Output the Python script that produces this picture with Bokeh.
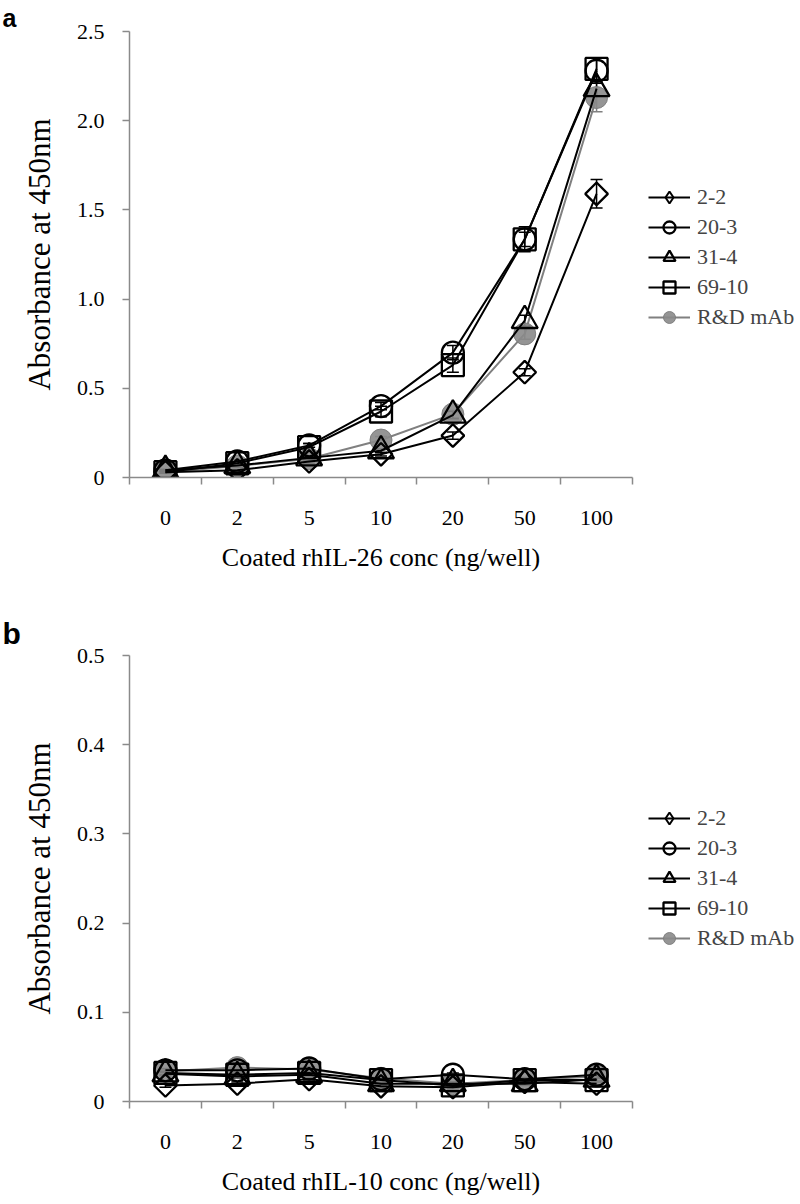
import math
from bokeh.plotting import figure
from bokeh.models import (ColumnDataSource, Legend, LegendItem, FixedTicker,
                          Whisker, TeeHead, Range1d)
from bokeh.layouts import column
from bokeh.embed import file_html
from bokeh.resources import INLINE

# ---------------- data ----------------
concs = ["0", "2", "5", "10", "20", "50", "100"]
series_names = ["2-2", "20-3", "31-4", "69-10", "R&D mAb"]

# panel a : coated rhIL-26
a_22 = [0.03, 0.04, 0.09, 0.13, 0.235, 0.59, 1.59]
a_203 = [0.04, 0.09, 0.18, 0.40, 0.70, 1.335, 2.28]
a_314 = [0.04, 0.067, 0.11, 0.15, 0.35, 0.88, 2.18]
a_6910 = [0.03, 0.08, 0.17, 0.37, 0.63, 1.335, 2.29]
a_rd = [0.03, 0.065, 0.105, 0.21, 0.355, 0.805, 2.13]
a_err_22 = [0.005, 0.005, 0.01, 0.01, 0.02, 0.02, 0.08]
a_err_203 = [0.005, 0.01, 0.01, 0.02, 0.04, 0.07, 0.07]
a_err_314 = [0.005, 0.01, 0.01, 0.01, 0.02, 0.03, 0.04]
a_err_6910 = [0.005, 0.01, 0.02, 0.03, 0.04, 0.04, 0.06]
a_err_rd = [0.005, 0.005, 0.01, 0.02, 0.02, 0.03, 0.08]
a_yticks = [0, 0.5, 1.0, 1.5, 2.0, 2.5]
a_ylabels = ["0", "0.5", "1.0", "1.5", "2.0", "2.5"]

# panel b : coated rhIL-10
b_22 = [0.018, 0.020, 0.025, 0.017, 0.016, 0.022, 0.020]
b_203 = [0.035, 0.035, 0.037, 0.025, 0.030, 0.025, 0.030]
b_314 = [0.031, 0.028, 0.030, 0.020, 0.020, 0.020, 0.025]
b_6910 = [0.032, 0.030, 0.032, 0.024, 0.018, 0.024, 0.024]
b_rd = [0.034, 0.038, 0.036, 0.026, 0.020, 0.024, 0.028]
b_err = [0.002, 0.002, 0.002, 0.002, 0.002, 0.002, 0.002]
b_yticks = [0, 0.1, 0.2, 0.3, 0.4, 0.5]
b_ylabels = ["0", "0.1", "0.2", "0.3", "0.4", "0.5"]

FONT = "Liberation Serif"
AXIS_GRAY = "#8a8a8a"
RD_FILL = "#8a8a8a"
RD_LINE = "#7a7a7a"


def make_panel(vals, errs, ymax, yticks, ylabels, xtitle, letter, letter_size,
               letter_standoff, top_border, bottom_border, legend_y):
    n = len(concs)
    xs = [i + 0.5 for i in range(n)]
    p = figure(frame_width=503, frame_height=446, output_backend="svg",
               toolbar_location=None, x_range=Range1d(0, n),
               y_range=Range1d(0, ymax), min_border_left=129,
               min_border_right=160, min_border_top=top_border,
               min_border_bottom=bottom_border)
    p.outline_line_color = None
    p.grid.visible = False
    p.background_fill_color = "white"

    # panel letter as the figure title
    p.title.text = letter
    p.title.align = "left"
    p.title.offset = -127
    p.title.standoff = letter_standoff
    p.title.text_font = "Liberation Sans"
    p.title.text_font_style = "bold"
    p.title.text_font_size = letter_size
    p.title.text_color = "black"

    # x axis: labels at category centres, ticks at boundaries
    xa = p.xaxis[0]
    xa.ticker = FixedTicker(ticks=xs, minor_ticks=list(range(n + 1)))
    xa.major_label_overrides = {x: c for x, c in zip(xs, concs)}
    xa.major_tick_out = 0
    xa.major_tick_in = 0
    xa.minor_tick_out = 7
    xa.minor_tick_in = 0
    xa.minor_tick_line_color = AXIS_GRAY
    xa.minor_tick_line_width = 1.5
    xa.axis_line_color = AXIS_GRAY
    xa.axis_line_width = 1.5
    xa.major_label_standoff = 26
    xa.major_label_text_font = FONT
    xa.major_label_text_font_size = "22px"
    xa.major_label_text_color = "black"
    xa.axis_label = xtitle
    xa.axis_label_text_font = FONT
    xa.axis_label_text_font_size = "26px"
    xa.axis_label_text_font_style = "normal"
    xa.axis_label_text_color = "black"
    xa.axis_label_standoff = 15

    ya = p.yaxis[0]
    ya.ticker = FixedTicker(ticks=yticks, minor_ticks=[])
    ya.major_label_overrides = {t: l for t, l in zip(yticks, ylabels)}
    ya.major_tick_out = 7
    ya.major_tick_in = 0
    ya.major_tick_line_color = AXIS_GRAY
    ya.major_tick_line_width = 1.5
    ya.minor_tick_line_color = None
    ya.axis_line_color = AXIS_GRAY
    ya.axis_line_width = 1.5
    ya.major_label_standoff = 18
    ya.major_label_text_font = FONT
    ya.major_label_text_font_size = "22px"
    ya.major_label_text_color = "black"
    ya.axis_label = "Absorbance at 450nm"
    ya.axis_label_text_font = FONT
    ya.axis_label_text_font_size = "31px"
    ya.axis_label_text_font_style = "normal"
    ya.axis_label_text_color = "black"
    ya.axis_label_standoff = 17

    styles = {
        "2-2": dict(marker="square", angle=math.pi / 4, size=16),
        "20-3": dict(marker="circle", angle=0, size=22),
        "31-4": dict(marker="triangle", angle=0, size=26),
        "69-10": dict(marker="square", angle=0, size=22),
        "R&D mAb": dict(marker="circle", angle=0, size=22),
    }

    items = {}
    draw_order = ["R&D mAb", "2-2", "20-3", "31-4", "69-10"]
    sources = {}
    for name in draw_order:
        y = vals[name]
        e = errs[name]
        src = ColumnDataSource(dict(x=xs, y=y,
                                    upper=[a + b for a, b in zip(y, e)],
                                    lower=[a - b for a, b in zip(y, e)]))
        sources[name] = src
        st = styles[name]
        if name == "R&D mAb":
            lr = p.line("x", "y", source=src, line_color="#808080", line_width=2)
            sr = p.scatter("x", "y", source=src, marker=st["marker"], size=st["size"],
                           fill_color=RD_FILL, fill_alpha=0.9,
                           line_color=RD_LINE, line_alpha=0.9, line_width=1)
        else:
            lr = p.line("x", "y", source=src, line_color="black", line_width=2)
            sr = p.scatter("x", "y", source=src, marker=st["marker"], angle=st["angle"],
                           size=st["size"], fill_color=None, line_color="black",
                           line_width=2.3)
        items[name] = [lr, sr]

    # legend-only diamond symbol (legend glyphs ignore marker angle);
    # its single point is NaN so nothing is drawn in the plot area
    legend_only = ColumnDataSource(dict(x=[float("nan")], y=[float("nan")]))
    ld = p.scatter("x", "y", source=legend_only, marker="diamond", size=20,
                   fill_color=None, line_color="black", line_width=2)
    items["2-2"] = [items["2-2"][0], ld]

    for name in draw_order:
        col = "#808080" if name == "R&D mAb" else "black"
        w = Whisker(source=sources[name], base="x", upper="upper", lower="lower",
                    dimension="height", line_color=col, line_width=1.5,
                    upper_head=TeeHead(size=12, line_color=col, line_width=1.5),
                    lower_head=TeeHead(size=12, line_color=col, line_width=1.5))
        p.add_layout(w)

    legend = Legend(items=[LegendItem(label=nm, renderers=items[nm]) for nm in series_names],
                    location=(16, legend_y), glyph_width=42, glyph_height=30,
                    spacing=0, label_standoff=7, label_text_font=FONT,
                    label_text_font_size="22px", border_line_color=None,
                    background_fill_alpha=0, padding=0, margin=0)
    p.add_layout(legend, "right")
    return p


pa = make_panel(
    {"2-2": a_22, "20-3": a_203, "31-4": a_314, "69-10": a_6910, "R&D mAb": a_rd},
    {"2-2": a_err_22, "20-3": a_err_203, "31-4": a_err_314, "69-10": a_err_6910,
     "R&D mAb": a_err_rd},
    2.5, a_yticks, a_ylabels, "Coated rhIL-26 conc (ng/well)", "a", "25px", 0,
    top_border=31, bottom_border=121, legend_y=145)

pb = make_panel(
    {"2-2": b_22, "20-3": b_203, "31-4": b_314, "69-10": b_6910, "R&D mAb": b_rd},
    {k: b_err for k in series_names},
    0.5, b_yticks, b_ylabels, "Coated rhIL-10 conc (ng/well)", "b", "30px", 12,
    top_border=57, bottom_border=95, legend_y=148)

layout = column(pa, pb, spacing=0)
open("out.html", "w").write(file_html(layout, INLINE))
